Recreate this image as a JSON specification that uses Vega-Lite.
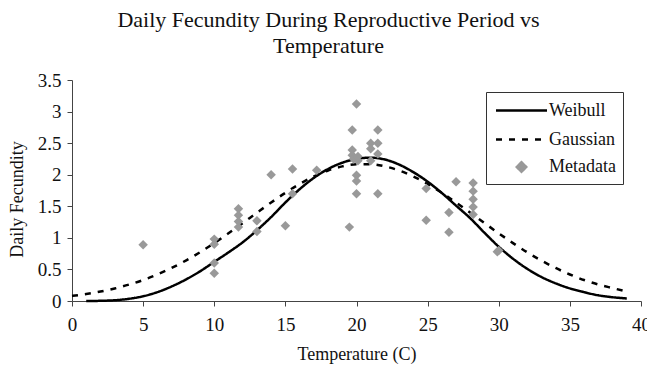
{
  "$schema": "https://vega.github.io/schema/vega-lite/v6.json",
  "width": 569,
  "height": 221,
  "autosize": "none",
  "padding": {"left": 72, "top": 80, "right": 6, "bottom": 65},
  "background": "white",
  "title": {
    "text": ["Daily Fecundity During Reproductive Period vs", "Temperature"],
    "font": "Liberation Serif",
    "fontSize": 22,
    "fontWeight": "normal",
    "color": "#111",
    "lineHeight": 26,
    "anchor": "middle",
    "frame": "group",
    "dx": -28,
    "offset": 13
  },
  "config": {
    "view": {"stroke": null},
    "legend": {
      "labelFont": "Liberation Serif",
      "labelFontSize": 18,
      "labelColor": "#111"
    }
  },
  "datasets": {
    "curves": [
      {"T": 0, "F": 0.081, "series": "Gaussian"},
      {"T": 1, "F": 0.111, "series": "Gaussian"},
      {"T": 2, "F": 0.150, "series": "Gaussian"},
      {"T": 3, "F": 0.198, "series": "Gaussian"},
      {"T": 4, "F": 0.259, "series": "Gaussian"},
      {"T": 5, "F": 0.332, "series": "Gaussian"},
      {"T": 6, "F": 0.420, "series": "Gaussian"},
      {"T": 7, "F": 0.523, "series": "Gaussian"},
      {"T": 8, "F": 0.640, "series": "Gaussian"},
      {"T": 9, "F": 0.772, "series": "Gaussian"},
      {"T": 10, "F": 0.917, "series": "Gaussian"},
      {"T": 11, "F": 1.072, "series": "Gaussian"},
      {"T": 12, "F": 1.234, "series": "Gaussian"},
      {"T": 13, "F": 1.398, "series": "Gaussian"},
      {"T": 14, "F": 1.560, "series": "Gaussian"},
      {"T": 15, "F": 1.713, "series": "Gaussian"},
      {"T": 16, "F": 1.853, "series": "Gaussian"},
      {"T": 17, "F": 1.972, "series": "Gaussian"},
      {"T": 18, "F": 2.067, "series": "Gaussian"},
      {"T": 19, "F": 2.132, "series": "Gaussian"},
      {"T": 20, "F": 2.166, "series": "Gaussian"},
      {"T": 21, "F": 2.166, "series": "Gaussian"},
      {"T": 22, "F": 2.132, "series": "Gaussian"},
      {"T": 23, "F": 2.067, "series": "Gaussian"},
      {"T": 24, "F": 1.972, "series": "Gaussian"},
      {"T": 25, "F": 1.853, "series": "Gaussian"},
      {"T": 26, "F": 1.713, "series": "Gaussian"},
      {"T": 27, "F": 1.560, "series": "Gaussian"},
      {"T": 28, "F": 1.398, "series": "Gaussian"},
      {"T": 29, "F": 1.234, "series": "Gaussian"},
      {"T": 30, "F": 1.072, "series": "Gaussian"},
      {"T": 31, "F": 0.917, "series": "Gaussian"},
      {"T": 32, "F": 0.772, "series": "Gaussian"},
      {"T": 33, "F": 0.640, "series": "Gaussian"},
      {"T": 34, "F": 0.523, "series": "Gaussian"},
      {"T": 35, "F": 0.420, "series": "Gaussian"},
      {"T": 36, "F": 0.332, "series": "Gaussian"},
      {"T": 37, "F": 0.262, "series": "Gaussian"},
      {"T": 38, "F": 0.205, "series": "Gaussian"},
      {"T": 39, "F": 0.150, "series": "Gaussian"},
      {"T": 1, "F": 0.0, "series": "Weibull"},
      {"T": 2, "F": 0.003, "series": "Weibull"},
      {"T": 3, "F": 0.012, "series": "Weibull"},
      {"T": 4, "F": 0.035, "series": "Weibull"},
      {"T": 5, "F": 0.075, "series": "Weibull"},
      {"T": 6, "F": 0.14, "series": "Weibull"},
      {"T": 7, "F": 0.23, "series": "Weibull"},
      {"T": 8, "F": 0.34, "series": "Weibull"},
      {"T": 9, "F": 0.47, "series": "Weibull"},
      {"T": 10, "F": 0.62, "series": "Weibull"},
      {"T": 11, "F": 0.77, "series": "Weibull"},
      {"T": 12, "F": 0.93, "series": "Weibull"},
      {"T": 13, "F": 1.12, "series": "Weibull"},
      {"T": 14, "F": 1.33, "series": "Weibull"},
      {"T": 15, "F": 1.56, "series": "Weibull"},
      {"T": 16, "F": 1.77, "series": "Weibull"},
      {"T": 17, "F": 1.95, "series": "Weibull"},
      {"T": 18, "F": 2.09, "series": "Weibull"},
      {"T": 19, "F": 2.19, "series": "Weibull"},
      {"T": 20, "F": 2.25, "series": "Weibull"},
      {"T": 21, "F": 2.27, "series": "Weibull"},
      {"T": 22, "F": 2.24, "series": "Weibull"},
      {"T": 23, "F": 2.16, "series": "Weibull"},
      {"T": 24, "F": 2.04, "series": "Weibull"},
      {"T": 25, "F": 1.89, "series": "Weibull"},
      {"T": 26, "F": 1.71, "series": "Weibull"},
      {"T": 27, "F": 1.51, "series": "Weibull"},
      {"T": 28, "F": 1.31, "series": "Weibull"},
      {"T": 29, "F": 1.08, "series": "Weibull"},
      {"T": 30, "F": 0.86, "series": "Weibull"},
      {"T": 31, "F": 0.67, "series": "Weibull"},
      {"T": 32, "F": 0.51, "series": "Weibull"},
      {"T": 33, "F": 0.38, "series": "Weibull"},
      {"T": 34, "F": 0.28, "series": "Weibull"},
      {"T": 35, "F": 0.20, "series": "Weibull"},
      {"T": 36, "F": 0.14, "series": "Weibull"},
      {"T": 37, "F": 0.09, "series": "Weibull"},
      {"T": 38, "F": 0.06, "series": "Weibull"},
      {"T": 39, "F": 0.04, "series": "Weibull"}
    ],
    "points": [
      {"T": 5, "F": 0.89, "series": "Metadata"},
      {"T": 10, "F": 0.98, "series": "Metadata"},
      {"T": 10, "F": 0.90, "series": "Metadata"},
      {"T": 10, "F": 0.60, "series": "Metadata"},
      {"T": 10, "F": 0.44, "series": "Metadata"},
      {"T": 11.7, "F": 1.46, "series": "Metadata"},
      {"T": 11.7, "F": 1.36, "series": "Metadata"},
      {"T": 11.7, "F": 1.26, "series": "Metadata"},
      {"T": 11.7, "F": 1.17, "series": "Metadata"},
      {"T": 13, "F": 1.27, "series": "Metadata"},
      {"T": 13, "F": 1.10, "series": "Metadata"},
      {"T": 14, "F": 2.00, "series": "Metadata"},
      {"T": 15, "F": 1.19, "series": "Metadata"},
      {"T": 15.5, "F": 2.09, "series": "Metadata"},
      {"T": 15.5, "F": 1.70, "series": "Metadata"},
      {"T": 17.2, "F": 2.07, "series": "Metadata"},
      {"T": 19.5, "F": 1.17, "series": "Metadata"},
      {"T": 19.7, "F": 2.71, "series": "Metadata"},
      {"T": 19.7, "F": 2.39, "series": "Metadata"},
      {"T": 19.7, "F": 2.31, "series": "Metadata"},
      {"T": 19.8, "F": 2.25, "series": "Metadata"},
      {"T": 20.1, "F": 2.22, "series": "Metadata"},
      {"T": 20, "F": 3.12, "series": "Metadata"},
      {"T": 20.1, "F": 2.29, "series": "Metadata"},
      {"T": 20, "F": 1.99, "series": "Metadata"},
      {"T": 20, "F": 1.90, "series": "Metadata"},
      {"T": 20, "F": 1.70, "series": "Metadata"},
      {"T": 21, "F": 2.50, "series": "Metadata"},
      {"T": 21, "F": 2.41, "series": "Metadata"},
      {"T": 21, "F": 2.22, "series": "Metadata"},
      {"T": 21.5, "F": 2.71, "series": "Metadata"},
      {"T": 21.5, "F": 2.50, "series": "Metadata"},
      {"T": 21.5, "F": 2.33, "series": "Metadata"},
      {"T": 21.5, "F": 1.70, "series": "Metadata"},
      {"T": 24.9, "F": 1.78, "series": "Metadata"},
      {"T": 24.9, "F": 1.28, "series": "Metadata"},
      {"T": 26.5, "F": 1.40, "series": "Metadata"},
      {"T": 26.5, "F": 1.09, "series": "Metadata"},
      {"T": 27, "F": 1.89, "series": "Metadata"},
      {"T": 28.2, "F": 1.87, "series": "Metadata"},
      {"T": 28.2, "F": 1.74, "series": "Metadata"},
      {"T": 28.2, "F": 1.61, "series": "Metadata"},
      {"T": 28.2, "F": 1.49, "series": "Metadata"},
      {"T": 28.2, "F": 1.37, "series": "Metadata"},
      {"T": 29.9, "F": 0.78, "series": "Metadata"},
      {"T": 30, "F": 0.80, "series": "Metadata"}
    ]
  },
  "encoding": {
    "x": {
      "field": "T",
      "type": "quantitative",
      "title": "Temperature (C)",
      "scale": {"domain": [0, 40], "nice": false, "zero": false},
      "axis": {
        "values": [0, 5, 10, 15, 20, 25, 30, 35, 40],
        "grid": false,
        "domainColor": "#444",
        "tickColor": "#444",
        "tickSize": 5,
        "labelFont": "Liberation Serif",
        "labelFontSize": 19,
        "labelColor": "#111",
        "labelPadding": 9,
        "labelFlush": false,
        "titleFont": "Liberation Serif",
        "titleFontSize": 18,
        "titleFontWeight": "normal",
        "titleColor": "#111",
        "titlePadding": 11
      }
    },
    "y": {
      "field": "F",
      "type": "quantitative",
      "title": "Daily Fecundity",
      "scale": {"domain": [0, 3.5], "nice": false},
      "axis": {
        "values": [0, 0.5, 1, 1.5, 2, 2.5, 3, 3.5],
        "format": "~g",
        "grid": false,
        "domainColor": "#444",
        "tickColor": "#444",
        "tickSize": 5,
        "labelFont": "Liberation Serif",
        "labelFontSize": 19,
        "labelColor": "#111",
        "labelPadding": 6,
        "labelFlush": false,
        "titleFont": "Liberation Serif",
        "titleFontSize": 18,
        "titleFontWeight": "normal",
        "titleColor": "#111",
        "titlePadding": 11,
        "titleY": 119
      }
    },
    "color": {
      "field": "series",
      "type": "nominal",
      "title": null,
      "scale": {"domain": ["Weibull", "Gaussian", "Metadata"], "range": ["#000000", "#000000", "#999999"]},
      "legend": {
        "title": null,
        "orient": "none",
        "legendX": 414,
        "legendY": 12,
        "padding": 7,
        "strokeColor": "#333",
        "fillColor": "white",
        "symbolStrokeWidth": 2.5,
        "symbolOffset": 17,
        "labelOffset": 16,
        "rowPadding": 8
      }
    }
  },
  "layer": [
    {
      "data": {"name": "curves"},
      "mark": {"type": "line", "strokeWidth": 2.5, "interpolate": "monotone"},
      "encoding": {
        "strokeDash": {
          "field": "series",
          "type": "nominal",
          "title": null,
          "scale": {"domain": ["Weibull", "Gaussian", "Metadata"], "range": [[1, 0], [6, 7], [1, 0]]}
        }
      }
    },
    {
      "data": {"name": "points"},
      "mark": {"type": "point", "filled": true, "opacity": 1},
      "encoding": {
        "shape": {
          "field": "series",
          "type": "nominal",
          "title": null,
          "scale": {"domain": ["Weibull", "Gaussian", "Metadata"], "range": ["M-2.55,0H2.55", "M-2.55,0H2.55", "diamond"]}
        },
        "size": {
          "field": "series",
          "type": "nominal",
          "title": null,
          "scale": {"type": "ordinal", "domain": ["Weibull", "Gaussian", "Metadata"], "range": [400, 400, 90]}
        }
      }
    }
  ]
}
